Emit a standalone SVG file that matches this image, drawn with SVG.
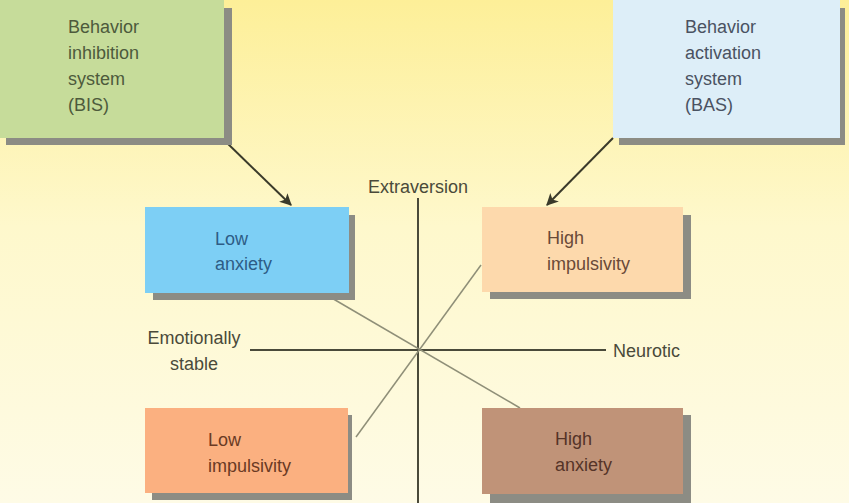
<svg xmlns="http://www.w3.org/2000/svg" width="849" height="503" viewBox="0 0 849 503">
<defs>
<linearGradient id="bg" x1="0" y1="0" x2="0" y2="1">
<stop offset="0" stop-color="#fdef98"/>
<stop offset="0.45" stop-color="#fef8cc"/>
<stop offset="1" stop-color="#fefbe6"/>
</linearGradient>
<marker id="ah" viewBox="0 0 10 10" refX="9" refY="5" markerWidth="7" markerHeight="6" orient="auto" markerUnits="strokeWidth">
<path d="M0,0 L10,5 L0,10 L2.5,5 z" fill="#3a3a2a"/>
</marker>
</defs>
<style>
.t{font-family:"Liberation Sans",Arial,sans-serif;font-size:18px}
.sh{fill:#8c8c84}
.axis{stroke:#4a4a3a;stroke-width:2;fill:none}
.diag{stroke:#8f8f78;stroke-width:1.5;fill:none}
.arr{stroke:#3a3a2a;stroke-width:2;fill:none}
</style>
<rect width="849" height="503" fill="url(#bg)"/>
<g id="connectors">
<line class="axis" x1="418" y1="198" x2="418" y2="503"/>
<line class="axis" x1="250" y1="350" x2="606" y2="350"/>
<line class="diag" x1="330" y1="297" x2="520" y2="408"/>
<line class="diag" x1="356" y1="437" x2="481" y2="265"/>
<line class="arr" x1="224" y1="140" x2="291" y2="205" marker-end="url(#ah)"/>
<line class="arr" x1="613" y1="138" x2="547" y2="205" marker-end="url(#ah)"/>
</g>
<g id="bis">
<rect class="sh" x="6" y="8" width="226" height="137"/>
<rect x="0" y="0" width="224" height="138" fill="#c6dc9a"/>
<text class="t" fill="#4d5a3c" x="68" y="33">Behavior</text>
<text class="t" fill="#4d5a3c" x="68" y="59">inhibition</text>
<text class="t" fill="#4d5a3c" x="68" y="85">system</text>
<text class="t" fill="#4d5a3c" x="68" y="111">(BIS)</text>
</g>
<g id="bas">
<rect class="sh" x="619" y="8" width="226" height="137"/>
<rect x="613" y="0" width="227" height="138" fill="#ddeef8"/>
<text class="t" fill="#4a5262" x="685" y="33">Behavior</text>
<text class="t" fill="#4a5262" x="685" y="59">activation</text>
<text class="t" fill="#4a5262" x="685" y="85">system</text>
<text class="t" fill="#4a5262" x="685" y="111">(BAS)</text>
</g>
<g id="low-anxiety">
<rect class="sh" x="153" y="215" width="202" height="85"/>
<rect x="145" y="207" width="204" height="86" fill="#7dcff5"/>
<text class="t" fill="#2d5c86" x="215" y="245">Low</text>
<text class="t" fill="#2d5c86" x="215" y="270">anxiety</text>
</g>
<g id="high-impulsivity">
<rect class="sh" x="490" y="215" width="201" height="84"/>
<rect x="482" y="207" width="201" height="85" fill="#fdd9ac"/>
<text class="t" fill="#6a4a38" x="547" y="244">High</text>
<text class="t" fill="#6a4a38" x="547" y="270">impulsivity</text>
</g>
<g id="extraversion">
<text class="t" fill="#4a4a3a" x="418" y="193" text-anchor="middle">Extraversion</text>
</g>
<g id="emotionally-stable">
<text class="t" fill="#4a4a3a" x="194" y="344" text-anchor="middle">Emotionally</text>
<text class="t" fill="#4a4a3a" x="194" y="370" text-anchor="middle">stable</text>
</g>
<g id="neurotic">
<text class="t" fill="#4a4a3a" x="613" y="357">Neurotic</text>
</g>
<g id="low-impulsivity">
<rect class="sh" x="152" y="415" width="200" height="85"/>
<rect x="145" y="408" width="203" height="85" fill="#fbb080"/>
<text class="t" fill="#6a3a24" x="208" y="446">Low</text>
<text class="t" fill="#6a3a24" x="208" y="472">impulsivity</text>
</g>
<g id="high-anxiety">
<rect class="sh" x="490" y="415" width="201" height="88"/>
<rect x="482" y="408" width="201" height="86" fill="#c09378"/>
<text class="t" fill="#553428" x="555" y="445">High</text>
<text class="t" fill="#553428" x="555" y="471">anxiety</text>
</g>
</svg>
